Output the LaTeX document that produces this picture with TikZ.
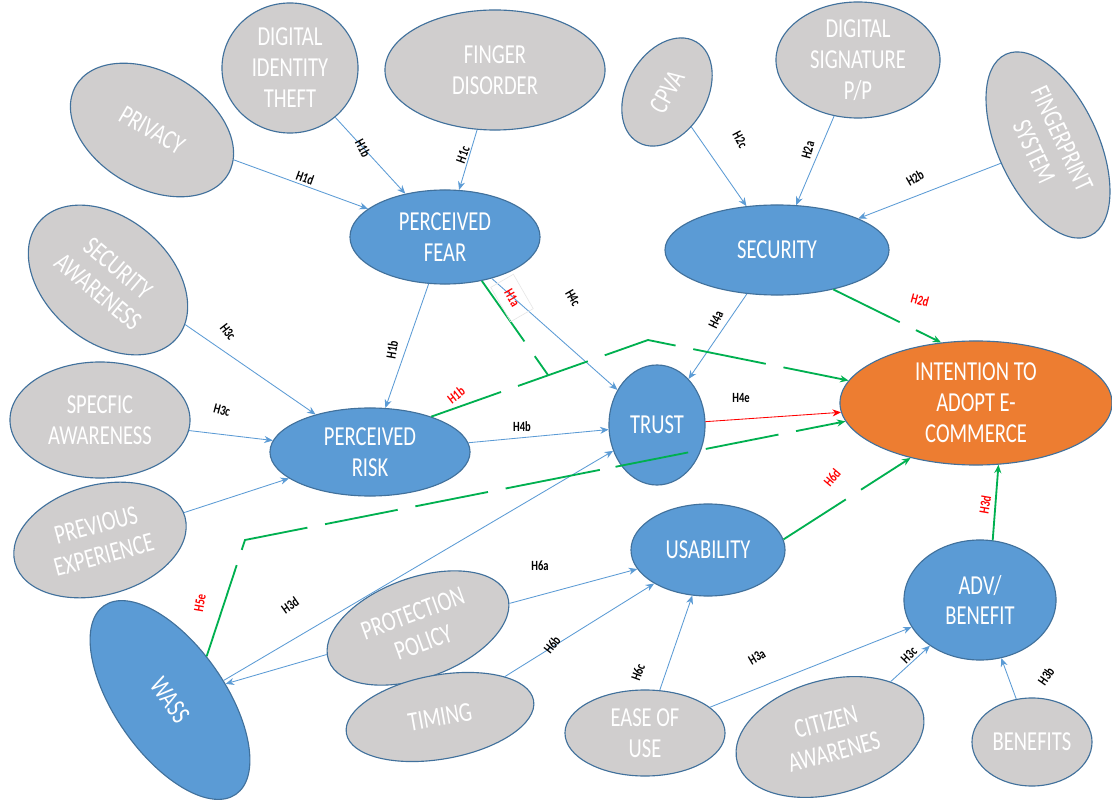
\documentclass[tikz,border=0pt]{standalone}
\usepackage{fontspec}
\setmainfont{Carlito}[FakeStretch=0.75]
\usetikzlibrary{shapes.geometric,arrows.meta}
\definecolor{bluefill}{HTML}{5B9BD5}
\definecolor{blueline}{HTML}{41719C}
\definecolor{grayfill}{HTML}{D0CECE}
\definecolor{orangefill}{HTML}{ED7D31}
\definecolor{conn}{HTML}{5B9BD5}
\definecolor{grn}{HTML}{00B050}
\definecolor{redl}{HTML}{FF0000}
\tikzset{
  ell/.style={ellipse, inner sep=0pt, draw=blueline, line width=0.8pt, text=white, align=center, font=\fontsize{19.5}{22}\selectfont},
  bnode/.style={ell, fill=bluefill},
  gnode/.style={ell, fill=grayfill},
  onode/.style={ell, fill=orangefill},
  arr/.style={draw=conn, line width=0.6pt, -{Stealth[length=6pt,width=5pt]}},
  garr/.style={draw=grn, line width=1.3pt, dash pattern=on 1.85cm off 0.45cm},
  garrow/.style={garr, -{Stealth[length=6pt,width=5pt]}},
  rarr/.style={draw=redl, line width=0.6pt, -{Stealth[length=6pt,width=5pt]}},
  lab/.style={font=\fontsize{10}{10}\selectfont\bfseries, text=black, inner sep=1pt},
  rlab/.style={lab, text=redl},
}
\begin{document}
\begin{tikzpicture}[x=0.025cm,y=-0.025cm]
\useasboundingbox (0,0) rectangle (1112,800);
\fill[white] (0,0) rectangle (1112,800);

% ---- nodes ----
\node[gnode, minimum width=4.4cm, minimum height=2.9cm, rotate=-30] (privacy) at (152,130) {PRIVACY};
\node[gnode, minimum width=3.4cm, minimum height=3.25cm] (dit) at (290,68) {DIGITAL\\IDENTITY\\THEFT};
\node[gnode, minimum width=5.5cm, minimum height=3.0cm] (finger) at (495,70) {FINGER\\DISORDER};
\node[gnode, minimum width=2.9cm, minimum height=2.0cm, rotate=60] (cpva) at (667,92) {CPVA};
\node[gnode, minimum width=4.1cm, minimum height=2.9cm] (digsig) at (858,60) {DIGITAL\\SIGNATURE\\P/P};
\node[gnode, minimum width=5.0cm, minimum height=2.5cm, rotate=-65] (fprint) at (1048,145) {FINGERPRINT\\SYSTEM};
\node[bnode, minimum width=4.75cm, minimum height=2.35cm] (fear) at (445,237) {PERCEIVED\\FEAR};
\node[bnode, minimum width=5.6cm, minimum height=2.25cm] (security) at (777,250) {SECURITY};
\node[gnode, minimum width=4.5cm, minimum height=3.1cm, rotate=-40] (secaw) at (108,280) {SECURITY\\AWARENESS};
\node[gnode, minimum width=4.5cm, minimum height=2.9cm] (specaw) at (100,420) {SPECFIC\\AWARENESS};
\node[gnode, minimum width=4.4cm, minimum height=2.75cm, rotate=15] (prevexp) at (100,540) {PREVIOUS\\EXPERIENCE};
\node[bnode, minimum width=5.0cm, minimum height=2.2cm] (risk) at (370,452) {PERCEIVED\\RISK};
\node[bnode, minimum width=2.4cm, minimum height=3.0cm] (trust) at (657,425) {TRUST};
\node[onode, minimum width=6.8cm, minimum height=3.1cm] (intent) at (976,403) {INTENTION TO\\ADOPT E-\\COMMERCE};
\node[bnode, minimum width=3.85cm, minimum height=2.3cm] (usab) at (708,550) {USABILITY};
\node[bnode, minimum width=3.8cm, minimum height=3.0cm] (adv) at (980,600) {ADV/\\BENEFIT};
\node[bnode, minimum width=5.75cm, minimum height=2.75cm, rotate=-55] (wass) at (170,700) {WASS};
\node[gnode, minimum width=4.75cm, minimum height=2.5cm, rotate=20] (protpol) at (418,628) {PROTECTION\\POLICY};
\node[gnode, minimum width=4.75cm, minimum height=2.1cm, rotate=10] (timing) at (440,717) {TIMING};
\node[gnode, minimum width=4.0cm, minimum height=2.15cm] (ease) at (645,733) {EASE OF\\USE};
\node[gnode, minimum width=4.8cm, minimum height=2.85cm, rotate=15] (citizen) at (830,737) {CITIZEN\\AWARENES};
\node[gnode, minimum width=3.0cm, minimum height=2.2cm] (benefits) at (1032,742) {BENEFITS};

\coordinate (j1) at (548,375);
\coordinate (bend1) at (648,340);
\coordinate (bend2) at (245,540);

% ---- blue connectors ----
\draw[arr] (privacy) -- (fear);
\draw[arr] (dit) -- (fear);
\draw[arr] (finger) -- (fear);
\draw[arr] (cpva) -- (security);
\draw[arr] (digsig) -- (security);
\draw[arr] (fprint) -- (security);
\draw[arr] (secaw.10) -- (risk);
\draw[arr] (specaw) -- (risk);
\draw[arr] (prevexp) -- (risk);
\draw[arr] (fear) -- (risk);
\draw[arr] (fear) -- (trust);
\draw[arr] (security) -- (trust);
\draw[arr] (risk) -- (trust);
\draw[arr] (wass.75) -- (trust);
\draw[arr] (protpol) -- (wass);
\draw[arr] (protpol) -- (usab);
\draw[arr] (timing) -- (usab);
\draw[arr] (ease) -- (usab);
\draw[arr] (ease) -- (adv);
\draw[arr] (citizen) -- (adv);
\draw[arr] (benefits) -- (adv);
\draw[rarr] (trust) -- (intent);

% ---- green connectors ----
\draw[garrow] (security.-35) -- (intent.120);
\draw[garr] (fear.-50) -- (j1);
\draw[garrow] (risk.30) -- (bend1) -- (intent.170);
\draw[garrow, dash pattern=on 2.4cm off 0.4cm on 1.85cm off 0.45cm on 1.85cm off 0.45cm on 1.85cm off 0.45cm] (wass.105) -- (bend2) -- (intent.188);
\draw[garrow] (usab.8) -- (intent.220);
\draw[garrow] (adv.78) -- (intent.-70);

% ---- labels ----
\node[lab, rotate=-20] (l1) at (305,178) {H1d};
\node[lab, rotate=-62] (l2) at (363,148) {H1b};
\node[lab, rotate=70] (l3) at (463,155) {H1c};
\node[lab, rotate=-62] (l4) at (740,140) {H2c};
\node[lab, rotate=75] (l5) at (808,150) {H2a};
\node[lab, rotate=30] (l6) at (915,178) {H2b};
\node[lab, rotate=-52] (l7) at (228,332) {H3c};
\node[lab, rotate=-15] (l8) at (222,410) {H3c};
\node[lab, rotate=80] (l9) at (392,350) {H1b};
\node[rlab, rotate=-60, draw=gray!20, inner xsep=8pt, inner ysep=6pt] (l10) at (512,298) {H1a};
\node[lab, rotate=-60] (l11) at (573,298) {H4c};
\node[lab, rotate=65] (l12) at (716,320) {H4a};
\node[rlab, rotate=-15] (l13) at (920,300) {H2d};
\node[rlab, rotate=38] (l14) at (456,395) {H1b};
\node[lab] (l15) at (522,427) {H4b};
\node[lab] (l16) at (741,398) {H4e};
\node[rlab, rotate=50] (l17) at (832,478) {H6d};
\node[lab, rotate=35] (l18) at (290,605) {H3d};
\node[rlab, rotate=80] (l19) at (200,603) {H5e};
\node[lab] (l20) at (540,566) {H6a};
\node[lab, rotate=52] (l21) at (552,645) {H6b};
\node[lab, rotate=70] (l22) at (638,672) {H6c};
\node[lab, rotate=30] (l23) at (757,657) {H3a};
\node[lab, rotate=45] (l24) at (909,655) {H3c};
\node[lab, rotate=55] (l25) at (1046,676) {H3b};
\node[rlab, rotate=80] (l26) at (985,505) {H3d};
\end{tikzpicture}
\end{document}
